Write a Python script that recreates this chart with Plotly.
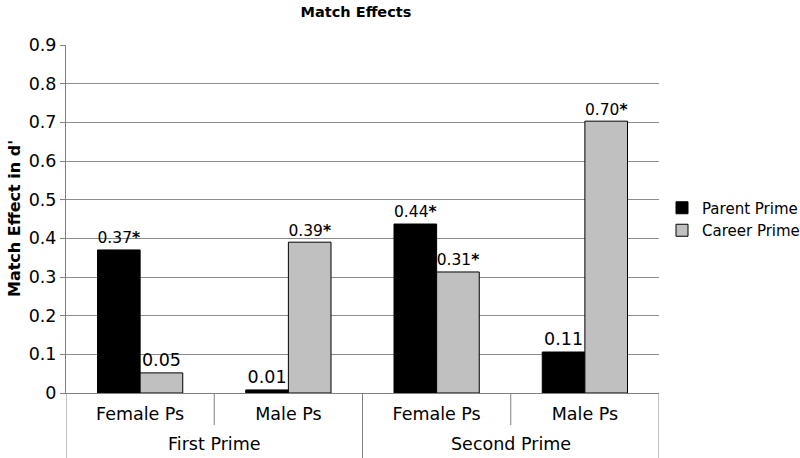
import plotly.graph_objects as go

groups = ["First Prime", "Second Prime"]
subcats = ["Female Ps", "Male Ps", "Female Ps", "Male Ps"]
parent_vals = [0.370, 0.008, 0.437, 0.106]
career_vals = [0.052, 0.390, 0.313, 0.703]
parent_sig = [True, False, True, False]
career_sig = [False, True, True, True]
y_ticks = [0, 0.1, 0.2, 0.3, 0.4, 0.5, 0.6, 0.7, 0.8, 0.9]
y_ticklabels = ["0", "0.1", "0.2", "0.3", "0.4", "0.5", "0.6", "0.7", "0.8", "0.9"]

def labels(vals, sig):
    return [f"{v:.2f}" + ("<b>*</b>" if s else "") for v, s in zip(vals, sig)]

FONT = "DejaVu Sans"
GRID = "#8c8c8c"
AXIS = "#808080"
FS = 17.5

L, R, T, B = 66, 141, 45, 65
W_PLOT = 800 - L - R
H_PLOT = 458 - T - B

xpos = list(range(len(subcats)))
n_sub = len(subcats) // len(groups)

fig = go.Figure()
fig.add_trace(go.Bar(
    x=xpos, y=parent_vals, name="Parent Prime",
    marker=dict(color="#000000", line=dict(color="#000000", width=1)),
    text=labels(parent_vals, parent_sig), textposition="outside",
    textfont=dict(size=FS, color="#000000", family=FONT), cliponaxis=False,
))
fig.add_trace(go.Bar(
    x=xpos, y=career_vals, name="Career Prime",
    marker=dict(color="#c0c0c0", line=dict(color="#000000", width=1)),
    text=labels(career_vals, career_sig), textposition="outside",
    textfont=dict(size=FS, color="#000000", family=FONT), cliponaxis=False,
))

shapes = []
for b in range(len(groups) + 1):
    xb = b * n_sub - 0.5
    shapes.append(dict(type="line", xref="x", yref="paper", x0=xb, x1=xb,
                       y0=0, y1=-65 / H_PLOT, line=dict(color=AXIS, width=1)))
for g in range(len(groups)):
    for s in range(1, n_sub):
        xb = g * n_sub + s - 0.5
        shapes.append(dict(type="line", xref="x", yref="paper", x0=xb, x1=xb,
                           y0=0, y1=-32 / H_PLOT, line=dict(color=AXIS, width=1)))

annotations = []
for g, name in enumerate(groups):
    annotations.append(dict(text=name, xref="x", yref="paper",
                            x=g * n_sub + (n_sub - 1) / 2, y=-51 / H_PLOT,
                            xanchor="center", yanchor="middle", showarrow=False,
                            font=dict(size=FS, family=FONT, color="#000000")))
annotations.append(dict(text="<b>Match Effect in d'</b>", xref="paper", yref="paper",
                        x=-52 / W_PLOT, y=0.5, textangle=-90, xanchor="center", yanchor="middle",
                        showarrow=False, font=dict(size=16, family=FONT, color="#000000")))

fig.update_layout(
    width=800, height=458,
    margin=dict(l=L, r=R, t=T, b=B, autoexpand=False),
    paper_bgcolor="white", plot_bgcolor="white",
    font=dict(family=FONT, size=FS, color="#000000"),
    title=dict(text="<b>Match Effects</b>", x=(356 - L) / W_PLOT, xref="paper", xanchor="center",
               y=1 - 12 / 458, yanchor="middle",
               font=dict(size=14.5, family=FONT)),
    barmode="group", bargap=0.425, bargroupgap=0,
    legend=dict(x=(662 - L) / W_PLOT, y=0.5, xanchor="left", yanchor="middle",
                font=dict(size=15, family=FONT)),
    shapes=shapes, annotations=annotations,
    xaxis=dict(
        range=[-0.5, len(subcats) - 0.5], tickvals=xpos, ticktext=subcats,
        showline=True, linecolor=AXIS, linewidth=1,
        ticks="outside", ticklen=5, tickcolor="rgba(0,0,0,0)",
        tickfont=dict(size=FS, family=FONT), automargin=False, showgrid=False,
        zeroline=False,
    ),
    yaxis=dict(
        range=[0, 0.9], tickvals=y_ticks, ticktext=y_ticklabels,
        showgrid=True, gridcolor=GRID, gridwidth=1,
        showline=True, linecolor=AXIS, linewidth=1,
        ticks="outside", ticklen=5, tickcolor=AXIS,
        tickfont=dict(size=FS, family=FONT), zeroline=False,
        automargin=False,
    ),
)

fig.write_html("out.html", config={"displayModeBar": False},
               post_script="document.body.style.margin='0';document.body.style.overflow='hidden';")
